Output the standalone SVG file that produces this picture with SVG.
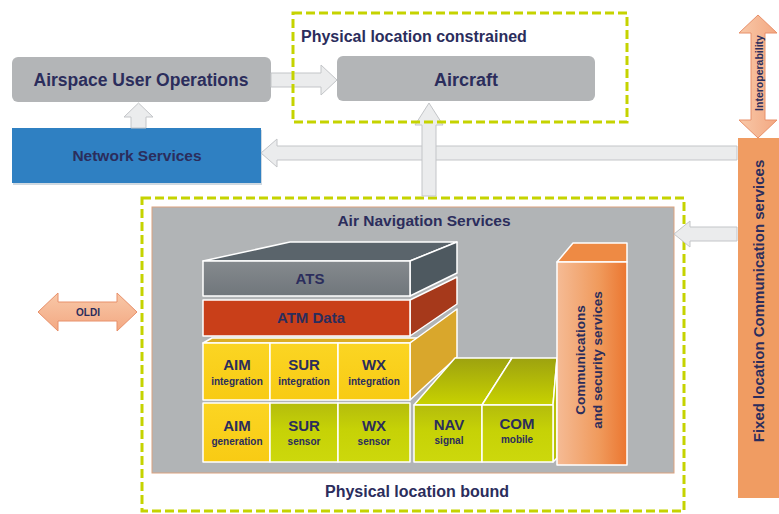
<svg xmlns="http://www.w3.org/2000/svg" width="779" height="514" viewBox="0 0 779 514">
<defs>
<style>
text{font-family:"Liberation Sans",Arial,sans-serif;font-weight:bold;fill:#2b2d5c}
.gbox{fill:#b3b5b7}
.garrow{fill:#ebeced;stroke:#c3c5c8;stroke-width:1}
.sarrow{stroke:#e8906a;stroke-width:1}
.dash{fill:none;stroke:#c5d300;stroke-width:3;stroke-dasharray:9 4}
.edge{stroke:#ffffff;stroke-width:1.5;stroke-linejoin:round}
.c{text-anchor:middle}
.m{font-size:15px}
.s{font-size:10px}
</style>
<linearGradient id="salmon" x1="0" y1="0" x2="0" y2="1"><stop offset="0" stop-color="#f8c8a8"/><stop offset="1" stop-color="#f3a882"/></linearGradient>
<linearGradient id="salmonH" x1="0" y1="0" x2="1" y2="0"><stop offset="0" stop-color="#f8c8a8"/><stop offset="1" stop-color="#f3a882"/></linearGradient>
<linearGradient id="atsF" x1="0" y1="0" x2="0" y2="1"><stop offset="0" stop-color="#858a8e"/><stop offset="1" stop-color="#70767b"/></linearGradient>
<linearGradient id="lime" x1="0" y1="0" x2="0" y2="1"><stop offset="0" stop-color="#b4bc0c"/><stop offset="0.45" stop-color="#c6d206"/><stop offset="1" stop-color="#cdd80c"/></linearGradient>
<linearGradient id="limeTop" x1="0" y1="0" x2="0" y2="1"><stop offset="0" stop-color="#9da20f"/><stop offset="1" stop-color="#c8d200"/></linearGradient>
<linearGradient id="yel" x1="0" y1="0" x2="0" y2="1"><stop offset="0" stop-color="#fbd523"/><stop offset="1" stop-color="#f8cb14"/></linearGradient>
<linearGradient id="comF" x1="0" y1="0" x2="1" y2="0"><stop offset="0" stop-color="#f5bb95"/><stop offset="0.6" stop-color="#f09a5c"/><stop offset="1" stop-color="#eb7630"/></linearGradient>
</defs>
<rect width="779" height="514" fill="#ffffff"/>

<g id="airspace-user-operations">
<rect class="gbox" x="12" y="57" width="259" height="45" rx="6"/>
<text class="c" x="141" y="86" font-size="17.5">Airspace User Operations</text>
</g>

<g id="aircraft">
<rect class="gbox" x="337" y="56" width="258" height="45" rx="6"/>
<text class="c" x="466" y="86" font-size="18">Aircraft</text>
</g>

<g id="network-services">
<rect x="13" y="130" width="249" height="55" fill="#9fb3c4" opacity="0.5"/>
<rect x="12" y="128" width="249" height="55" fill="#2f80c2"/>
<text class="c" x="137" y="161" font-size="15.5">Network Services</text>
</g>

<g id="physical-location-bound">
<rect class="dash" x="142" y="198" width="542" height="313"/>
<text class="c" x="417" y="497" font-size="16">Physical location bound</text>
</g>

<g id="air-navigation-services">
<rect x="152" y="207" width="522" height="266" fill="#b1b4b6" stroke="#dba27e" stroke-width="1"/>
<text class="c" x="424" y="226" font-size="15.5">Air Navigation Services</text>
</g>

<g id="ats">
<polygon class="edge" points="203,261 290,242 457,242 410,261" fill="#5a646b"/>
<polygon class="edge" points="410,261 457,242 457,273 410,296" fill="#4e5960"/>
<rect class="edge" x="203" y="261" width="207" height="35" fill="url(#atsF)"/>
<text class="c" x="310" y="284" font-size="15">ATS</text>
</g>

<g id="atm-data">
<polygon class="edge" points="410,300 457,277 457,304 410,336" fill="#a6391b"/>
<rect class="edge" x="203" y="300" width="207" height="36" fill="#c93f19"/>
<text class="c" x="311" y="323" font-size="15">ATM Data</text>
</g>

<g id="integration-row">
<polygon class="edge" points="203,343 212,338 418,338 410,343" fill="#dcae24"/>
<polygon class="edge" points="410,343 457,309 457,357 410,400" fill="#d9a72c"/>
</g>
<g id="aim-integration">
<rect class="edge" x="203" y="343" width="67" height="57" fill="url(#yel)"/>
<text class="c m" x="237" y="370">AIM</text>
<text class="c s" x="237" y="385">integration</text>
</g>
<g id="sur-integration">
<rect class="edge" x="270" y="343" width="68" height="57" fill="url(#yel)"/>
<text class="c m" x="304" y="370">SUR</text>
<text class="c s" x="304" y="385">integration</text>
</g>
<g id="wx-integration">
<rect class="edge" x="338" y="343" width="72" height="57" fill="url(#yel)"/>
<text class="c m" x="374" y="370">WX</text>
<text class="c s" x="374" y="385">integration</text>
</g>

<g id="aim-generation">
<rect class="edge" x="203" y="403" width="67" height="59" fill="url(#yel)"/>
<text class="c m" x="237" y="431">AIM</text>
<text class="c s" x="237" y="445">generation</text>
</g>
<g id="sur-sensor">
<rect class="edge" x="270" y="403" width="68" height="59" fill="url(#lime)"/>
<text class="c m" x="304" y="431">SUR</text>
<text class="c s" x="304" y="445">sensor</text>
</g>
<g id="wx-sensor">
<rect class="edge" x="338" y="403" width="72" height="59" fill="url(#lime)"/>
<text class="c m" x="374" y="431">WX</text>
<text class="c s" x="374" y="445">sensor</text>
</g>

<g id="nav-com-top">
<polygon class="edge" points="414,405 455,358 512,358 482,405" fill="url(#limeTop)"/>
<polygon class="edge" points="482,405 512,358 557,358 553,405" fill="url(#limeTop)"/>
<polygon class="edge" points="553,405 557,358 557,458 553,462" fill="#b8c208"/>
</g>
<g id="nav-signal">
<rect class="edge" x="414" y="405" width="68" height="57" fill="url(#lime)"/>
<text class="c m" x="449" y="430">NAV</text>
<text class="c s" x="449" y="444">signal</text>
</g>
<g id="com-mobile">
<rect class="edge" x="482" y="405" width="71" height="57" fill="url(#lime)"/>
<text class="c m" x="517" y="429">COM</text>
<text class="c s" x="517" y="443">mobile</text>
</g>

<g id="communications-security">
<polygon class="edge" points="557,262 573,243 627,243 627,262" fill="#ee8a44"/>
<rect class="edge" x="557" y="262" width="70" height="203" fill="url(#comF)"/>
<g transform="translate(585,360) rotate(-90)"><text class="c" x="0" y="0" font-size="13.5">Communications</text></g>
<g transform="translate(602,360) rotate(-90)"><text class="c" x="0" y="0" font-size="13.5">and security services</text></g>
</g>

<g id="fixed-location-communication">
<rect x="738" y="138" width="41" height="360" fill="#f09c62"/>
<g transform="translate(764,301) rotate(-90)"><text class="c" x="0" y="0" font-size="15">Fixed location Communication services</text></g>
</g>

<g id="connectors">
<path class="garrow" d="M271,73 H321 V65 L337,80 L321,95 V87 H271 Z"/>
<path class="garrow" d="M131,128 V117 H124 L138.5,103 L153,117 H146 V128 Z"/>
<path class="garrow" d="M737,146 H277 V139 L261,153 L277,167 V160 H737 Z"/>
<path class="garrow" d="M422,196 V125 H415 L429,103 L443,125 H436 V196 Z"/>
<path class="garrow" d="M737,227 H690 V221 L674,234 L690,247 V241 H737 Z"/>
<g id="interoperability">
<path class="sarrow" fill="url(#salmonH)" d="M758,15 L777,33 H765 V120 H777 L758,138 L739,120 H751 V33 H739 Z"/>
<g transform="translate(763,73) rotate(-90)"><text class="c" x="0" y="0" font-size="10.5">Interoperability</text></g>
</g>
<g id="oldi">
<path class="sarrow" fill="url(#salmon)" d="M38,312 L58,293 V302 H117 V293 L137,312 L117,331 V321 H58 V331 Z"/>
<text class="c" x="88" y="316" font-size="10">OLDI</text>
</g>
</g>

<g id="physical-location-constrained">
<rect class="dash" x="293" y="13" width="334" height="109"/>
<text x="301" y="42" font-size="16">Physical location constrained</text>
</g>
</svg>
